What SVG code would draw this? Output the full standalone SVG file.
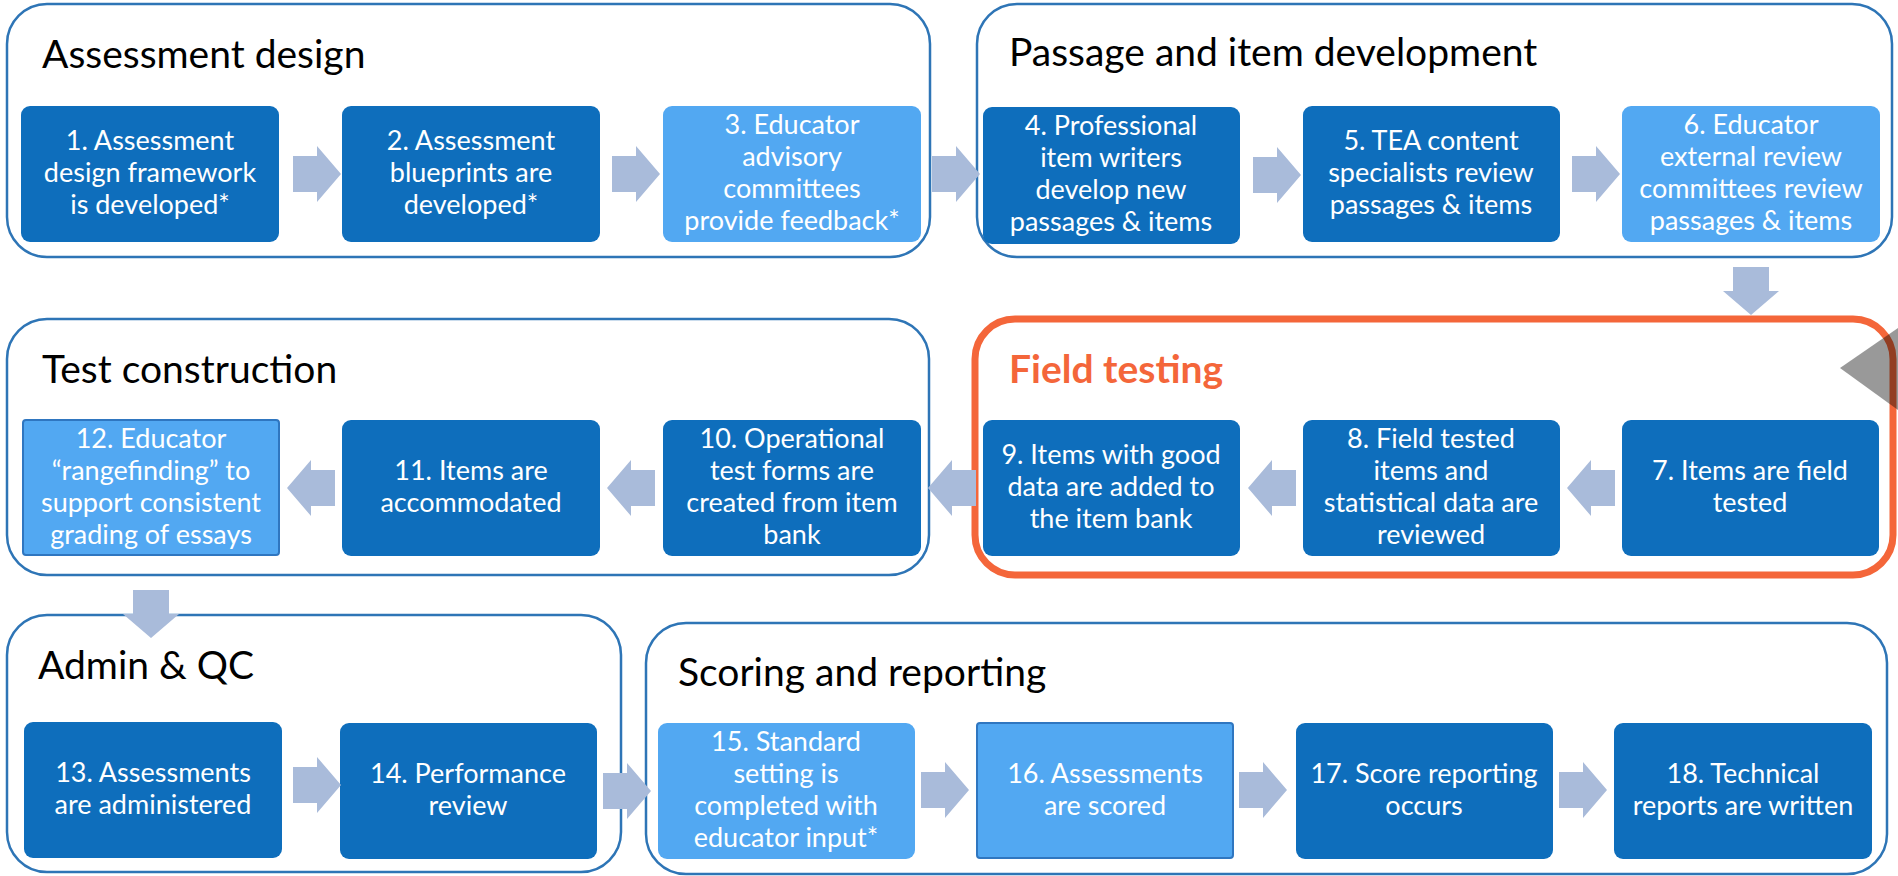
<svg xmlns="http://www.w3.org/2000/svg" xmlns:xlink="http://www.w3.org/1999/xlink" width="1898" height="876" viewBox="0 0 1898 876">
  <style>
    .group { fill: #ffffff; stroke: #2E75B6; stroke-width: 2.5; }
    .group-hot { fill: #ffffff; stroke: #F4663A; stroke-width: 7; }
    .title { font-family: Lato, "Liberation Sans", sans-serif; font-size: 39px; fill: #000000; }
    .title-hot { font-family: Lato, "Liberation Sans", sans-serif; font-size: 39px; font-weight: bold; fill: #F4663A; }
    .step { fill: #0E6EBC; }
    .step-light { fill: #52A8F2; }
    .step-edged { fill: #52A8F2; stroke: #2F76C0; stroke-width: 2; }
    .label { font-family: Lato, "Liberation Sans", sans-serif; font-size: 27px; fill: #ffffff; text-anchor: middle; }
    .flow { fill: #A9BBDA; }
  </style>
  <defs>
    <!-- block arrow pointing right, tail at origin -->
    <path id="arrow" d="M0,-18 H24 V-28 L48,0 L24,28 V18 H0 Z"/>
  </defs>

  <!-- stage containers -->
  <g id="stage-design">
    <rect class="group" x="7" y="4" width="923" height="253" rx="40"/>
    <text class="title" x="42" y="68">Assessment design</text>
  </g>
  <g id="stage-development">
    <rect class="group" x="977" y="4" width="915" height="253" rx="40"/>
    <text class="title" x="1009" y="66">Passage and item development</text>
  </g>
  <g id="stage-construction">
    <rect class="group" x="7" y="319" width="922" height="256" rx="40"/>
    <text class="title" x="42" y="383">Test construction</text>
  </g>
  <g id="stage-field">
    <rect class="group-hot" x="975" y="319" width="918" height="256" rx="40"/>
    <text class="title-hot" x="1009" y="383">Field testing</text>
  </g>
  <g id="stage-admin">
    <rect class="group" x="7" y="615" width="614" height="257" rx="40"/>
    <text class="title" x="38" y="679">Admin &amp; QC</text>
  </g>
  <g id="stage-scoring">
    <rect class="group" x="646" y="623" width="1241" height="251" rx="40"/>
    <text class="title" x="678" y="686">Scoring and reporting</text>
  </g>

  <!-- steps -->
  <g id="step-1">
    <rect class="step" x="21" y="106" width="258" height="136" rx="9"/>
    <text class="label"><tspan x="150" y="150">1. Assessment</tspan><tspan x="150" y="182">design framework</tspan><tspan x="150" y="214">is developed*</tspan></text>
  </g>
  <g id="step-2">
    <rect class="step" x="342" y="106" width="258" height="136" rx="9"/>
    <text class="label"><tspan x="471" y="150">2. Assessment</tspan><tspan x="471" y="182">blueprints are</tspan><tspan x="471" y="214">developed*</tspan></text>
  </g>
  <g id="step-3">
    <rect class="step-light" x="663" y="106" width="258" height="136" rx="9"/>
    <text class="label"><tspan x="792" y="134">3. Educator</tspan><tspan x="792" y="166">advisory</tspan><tspan x="792" y="198">committees</tspan><tspan x="792" y="230">provide feedback*</tspan></text>
  </g>
  <g id="step-4">
    <rect class="step" x="983" y="107" width="257" height="137" rx="9"/>
    <text class="label"><tspan x="1111" y="135">4. Professional</tspan><tspan x="1111" y="167">item writers</tspan><tspan x="1111" y="199">develop new</tspan><tspan x="1111" y="231">passages &amp; items</tspan></text>
  </g>
  <g id="step-5">
    <rect class="step" x="1303" y="106" width="257" height="136" rx="9"/>
    <text class="label"><tspan x="1431" y="150">5. TEA content</tspan><tspan x="1431" y="182">specialists review</tspan><tspan x="1431" y="214">passages &amp; items</tspan></text>
  </g>
  <g id="step-6">
    <rect class="step-light" x="1622" y="106" width="258" height="136" rx="9"/>
    <text class="label"><tspan x="1751" y="134">6. Educator</tspan><tspan x="1751" y="166">external review</tspan><tspan x="1751" y="198">committees review</tspan><tspan x="1751" y="230">passages &amp; items</tspan></text>
  </g>
  <g id="step-7">
    <rect class="step" x="1622" y="420" width="257" height="136" rx="9"/>
    <text class="label"><tspan x="1750" y="480">7. Items are field</tspan><tspan x="1750" y="512">tested</tspan></text>
  </g>
  <g id="step-8">
    <rect class="step" x="1303" y="420" width="257" height="136" rx="9"/>
    <text class="label"><tspan x="1431" y="448">8. Field tested</tspan><tspan x="1431" y="480">items and</tspan><tspan x="1431" y="512">statistical data are</tspan><tspan x="1431" y="544">reviewed</tspan></text>
  </g>
  <g id="step-9">
    <rect class="step" x="983" y="420" width="257" height="136" rx="9"/>
    <text class="label"><tspan x="1111" y="464">9. Items with good</tspan><tspan x="1111" y="496">data are added to</tspan><tspan x="1111" y="528">the item bank</tspan></text>
  </g>
  <g id="step-10">
    <rect class="step" x="663" y="420" width="258" height="136" rx="9"/>
    <text class="label"><tspan x="792" y="448">10. Operational</tspan><tspan x="792" y="480">test forms are</tspan><tspan x="792" y="512">created from item</tspan><tspan x="792" y="544">bank</tspan></text>
  </g>
  <g id="step-11">
    <rect class="step" x="342" y="420" width="258" height="136" rx="9"/>
    <text class="label"><tspan x="471" y="480">11. Items are</tspan><tspan x="471" y="512">accommodated</tspan></text>
  </g>
  <g id="step-12">
    <rect class="step-edged" x="23" y="420" width="256" height="135" rx="3"/>
    <text class="label"><tspan x="151" y="448">12. Educator</tspan><tspan x="151" y="480">“rangefinding” to</tspan><tspan x="151" y="512">support consistent</tspan><tspan x="151" y="544">grading of essays</tspan></text>
  </g>
  <g id="step-13">
    <rect class="step" x="24" y="722" width="258" height="136" rx="9"/>
    <text class="label"><tspan x="153" y="782">13. Assessments</tspan><tspan x="153" y="814">are administered</tspan></text>
  </g>
  <g id="step-14">
    <rect class="step" x="340" y="723" width="257" height="136" rx="9"/>
    <text class="label"><tspan x="468" y="783">14. Performance</tspan><tspan x="468" y="815">review</tspan></text>
  </g>
  <g id="step-15">
    <rect class="step-light" x="658" y="723" width="257" height="136" rx="9"/>
    <text class="label"><tspan x="786" y="751">15. Standard</tspan><tspan x="786" y="783">setting is</tspan><tspan x="786" y="815">completed with</tspan><tspan x="786" y="847">educator input*</tspan></text>
  </g>
  <g id="step-16">
    <rect class="step-edged" x="977" y="723" width="256" height="135" rx="3"/>
    <text class="label"><tspan x="1105" y="783">16. Assessments</tspan><tspan x="1105" y="815">are scored</tspan></text>
  </g>
  <g id="step-17">
    <rect class="step" x="1296" y="723" width="257" height="136" rx="9"/>
    <text class="label"><tspan x="1424" y="783">17. Score reporting</tspan><tspan x="1424" y="815">occurs</tspan></text>
  </g>
  <g id="step-18">
    <rect class="step" x="1614" y="723" width="258" height="136" rx="9"/>
    <text class="label"><tspan x="1743" y="783">18. Technical</tspan><tspan x="1743" y="815">reports are written</tspan></text>
  </g>

  <!-- flow arrows between steps -->
  <g id="connectors" class="flow">
    <use xlink:href="#arrow" transform="translate(293,174)"/>
    <use xlink:href="#arrow" transform="translate(612,174)"/>
    <use xlink:href="#arrow" transform="translate(932,174)"/>
    <use xlink:href="#arrow" transform="translate(1253,175)"/>
    <use xlink:href="#arrow" transform="translate(1572,174)"/>
    <use xlink:href="#arrow" transform="translate(1751,267) rotate(90)"/>
    <use xlink:href="#arrow" transform="translate(1615,488) scale(-1,1)"/>
    <use xlink:href="#arrow" transform="translate(1296,488) scale(-1,1)"/>
    <use xlink:href="#arrow" transform="translate(976,488) scale(-1,1)"/>
    <use xlink:href="#arrow" transform="translate(655,488) scale(-1,1)"/>
    <use xlink:href="#arrow" transform="translate(335,488) scale(-1,1)"/>
    <use xlink:href="#arrow" transform="translate(151,590) rotate(90)"/>
    <use xlink:href="#arrow" transform="translate(293,785)"/>
    <use xlink:href="#arrow" transform="translate(603,791)"/>
    <use xlink:href="#arrow" transform="translate(921,790)"/>
    <use xlink:href="#arrow" transform="translate(1239,790)"/>
    <use xlink:href="#arrow" transform="translate(1559,790)"/>
  </g>

  <!-- grey pointer at the right edge of the field testing stage -->
  <polygon points="1840,368 1898,328 1898,410" fill="#000000" fill-opacity="0.4"/>
</svg>
